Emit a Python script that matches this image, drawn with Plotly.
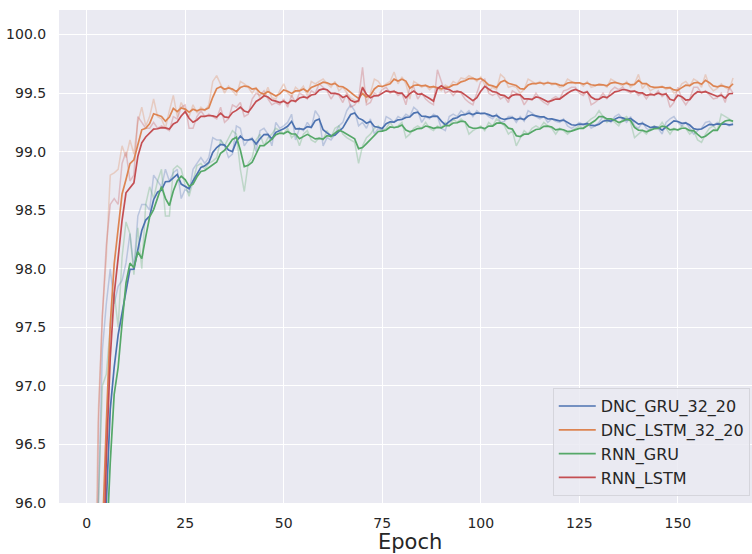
import numpy as np
import plotly.graph_objects as go

# Validation accuracy (%) per epoch for each model
epochs = list(range(1, 165))

dnc_gru_32_20 = [
    90.0, 93.5, 96.0, 97.3, 97.7, 98.0, 97.7, 97.85, 97.9, 98.05,
    98.3, 98.0, 98.45, 98.55, 98.55, 98.5, 98.8, 98.75, 98.7, 98.85,
    98.75, 98.82, 98.85, 98.6, 98.68, 98.65, 98.85, 98.9, 98.95, 98.9,
    98.95, 99.12, 99.1, 99.1, 99.05, 98.95, 98.98, 99.22, 99.2, 99.05,
    99.1, 99.12, 99.0, 99.18, 99.2, 99.15, 99.05, 99.25, 99.2, 99.22,
    99.25, 99.32, 99.1, 99.2, 99.18, 99.25, 99.2, 99.35, 99.3, 99.05,
    99.12, 99.1, 99.15, 99.22, 99.25, 99.35, 99.4, 99.35, 99.22, 99.25,
    99.2, 99.28, 99.15, 99.2, 99.18, 99.3, 99.28, 99.25, 99.3, 99.28,
    99.32, 99.3, 99.38, 99.35, 99.25, 99.3, 99.28, 99.32, 99.3, 99.2,
    99.18, 99.3, 99.32, 99.3, 99.35, 99.32, 99.35, 99.3, 99.35, 99.32,
    99.33, 99.3, 99.28, 99.32, 99.25, 99.26, 99.3, 99.3, 99.25, 99.3,
    99.26, 99.35, 99.33, 99.3, 99.28, 99.3, 99.25, 99.28, 99.26, 99.25,
    99.28, 99.22, 99.2, 99.22, 99.25, 99.23, 99.25, 99.2, 99.22, 99.25,
    99.3, 99.28, 99.25, 99.3, 99.32, 99.28, 99.25, 99.3, 99.22, 99.2,
    99.25, 99.2, 99.18, 99.22, 99.2, 99.15, 99.25, 99.28, 99.3, 99.25,
    99.22, 99.25, 99.2, 99.15, 99.18, 99.2, 99.25, 99.26, 99.22, 99.25,
    99.23, 99.24, 99.22, 99.24,
]

dnc_lstm_32_20 = [
    91.5, 95.0, 96.8, 97.6, 98.1, 98.8, 98.82, 98.85, 99.05, 98.95,
    99.1, 98.98, 99.25, 99.38, 99.22, 99.3, 99.45, 99.3, 99.28, 99.2,
    99.35, 99.48, 99.3, 99.42, 99.35, 99.3, 99.4, 99.33, 99.38, 99.35,
    99.4, 99.6, 99.65, 99.58, 99.5, 99.56, 99.52, 99.48, 99.6, 99.58,
    99.55, 99.5, 99.55, 99.45, 99.47, 99.55, 99.46, 99.45, 99.52, 99.58,
    99.5, 99.47, 99.55, 99.52, 99.56, 99.48, 99.6, 99.58, 99.6, 99.62,
    99.58, 99.55, 99.6, 99.52, 99.55, 99.5, 99.46, 99.44, 99.42, 99.56,
    99.42, 99.5, 99.62, 99.6, 99.55, 99.58, 99.6, 99.68, 99.58, 99.64,
    99.58, 99.45, 99.6, 99.58, 99.55, 99.57, 99.53, 99.56, 99.54, 99.52,
    99.57, 99.55, 99.6, 99.58, 99.63, 99.62, 99.65, 99.63, 99.6, 99.64,
    99.57, 99.52, 99.55, 99.53, 99.66, 99.63, 99.55, 99.56, 99.55, 99.5,
    99.53, 99.62, 99.6, 99.58, 99.6, 99.57, 99.6, 99.57, 99.58, 99.55,
    99.56, 99.62, 99.6, 99.58, 99.59, 99.56, 99.6, 99.55, 99.56, 99.58,
    99.57, 99.55, 99.62, 99.6, 99.58, 99.56, 99.6, 99.55, 99.58, 99.66,
    99.54, 99.58, 99.52, 99.54, 99.55, 99.56, 99.53, 99.55, 99.5, 99.52,
    99.58, 99.6, 99.56, 99.62, 99.6, 99.55, 99.66, 99.56, 99.52, 99.54,
    99.58, 99.55, 99.53, 99.63,
]

rnn_gru = [
    89.5, 93.0, 96.0, 97.0, 97.1, 97.5, 97.8, 97.5, 98.1, 98.4,
    98.3, 97.95, 98.35, 98.0, 98.55, 98.7, 98.6, 98.75, 98.85, 98.45,
    98.45, 98.85, 98.88, 98.85, 98.72, 98.62, 98.75, 98.88, 98.9, 98.85,
    98.9, 98.92, 98.95, 99.1, 99.05, 99.12, 99.18, 99.15, 98.85, 98.66,
    98.9, 98.95, 99.1, 99.15, 99.05, 99.12, 99.15, 99.2, 99.18, 99.15,
    99.2, 99.12, 99.15, 99.05, 99.15, 99.18, 99.1, 99.08, 99.12, 99.1,
    99.18, 99.12, 99.2, 99.22, 99.15, 99.12, 99.1, 99.08, 98.9, 99.05,
    99.12, 99.15, 99.2, 99.22, 99.18, 99.2, 99.25, 99.2, 99.22, 99.25,
    99.12, 99.15, 99.2, 99.22, 99.2, 99.25, 99.2, 99.18, 99.22, 99.2,
    99.25, 99.22, 99.28, 99.25, 99.28, 99.25, 99.15, 99.18, 99.2, 99.22,
    99.18, 99.25, 99.22, 99.28, 99.25, 99.22, 99.15, 99.18, 99.05, 99.12,
    99.18, 99.15, 99.2, 99.22, 99.2, 99.25, 99.22, 99.2, 99.15, 99.2,
    99.18, 99.15, 99.18, 99.2, 99.22, 99.2, 99.25, 99.28, 99.3, 99.35,
    99.3, 99.25, 99.28, 99.25, 99.22, 99.28, 99.3, 99.25, 99.12, 99.15,
    99.18, 99.15, 99.2, 99.22, 99.2, 99.25, 99.2, 99.15, 99.2, 99.18,
    99.22, 99.2, 99.15, 99.18, 99.1, 99.08, 99.15, 99.2, 99.22, 99.18,
    99.32, 99.3, 99.28, 99.25,
]

rnn_lstm = [
    90.0, 93.5, 96.68, 97.6, 98.2, 98.55, 98.6, 98.55, 98.9, 99.0,
    98.75, 98.8, 99.3, 99.25, 99.2, 99.2, 99.25, 99.2, 99.22, 99.2,
    99.18, 99.3, 99.28, 99.38, 99.4, 99.2, 99.2, 99.3, 99.35, 99.3,
    99.32, 99.3, 99.28, 99.38, 99.25, 99.28, 99.4, 99.38, 99.42, 99.3,
    99.32, 99.45, 99.5, 99.48, 99.52, 99.45, 99.4, 99.42, 99.4, 99.45,
    99.38, 99.48, 99.42, 99.5, 99.48, 99.45, 99.52, 99.5, 99.58, 99.55,
    99.52, 99.45, 99.5, 99.48, 99.42, 99.5, 99.38, 99.4, 99.45, 99.72,
    99.4, 99.42, 99.5, 99.48, 99.53, 99.55, 99.5, 99.52, 99.48, 99.5,
    99.4, 99.55, 99.55, 99.45, 99.5, 99.45, 99.42, 99.4, 99.7, 99.6,
    99.5, 99.52, 99.48, 99.52, 99.5, 99.45, 99.42, 99.4, 99.5, 99.6,
    99.62, 99.5, 99.48, 99.5, 99.45, 99.47, 99.42, 99.52, 99.5, 99.48,
    99.4, 99.45, 99.44, 99.5, 99.45, 99.42, 99.4, 99.45, 99.47, 99.45,
    99.52, 99.53, 99.55, 99.55, 99.5, 99.48, 99.52, 99.4, 99.42, 99.45,
    99.5, 99.45, 99.52, 99.55, 99.53, 99.55, 99.52, 99.5, 99.52, 99.48,
    99.5, 99.45, 99.5, 99.48, 99.52, 99.47, 99.5, 99.38, 99.42, 99.55,
    99.45, 99.4, 99.45, 99.55, 99.55, 99.5, 99.52, 99.48, 99.45, 99.46,
    99.5, 99.42, 99.55, 99.5,
]

series_names = ["DNC_GRU_32_20", "DNC_LSTM_32_20", "RNN_GRU", "RNN_LSTM"]
series_values = [dnc_gru_32_20, dnc_lstm_32_20, rnn_gru, rnn_lstm]
series_colors = ["#4C72B0", "#DD8452", "#55A868", "#C44E52"]
x_ticks = [0, 25, 50, 75, 100, 125, 150]
y_ticks = [96.0, 96.5, 97.0, 97.5, 98.0, 98.5, 99.0, 99.5, 100.0]

SMOOTH_WEIGHT = 0.6


def ema(values, weight):
    """Exponential moving average, as used for smoothing training curves."""
    out = []
    last = values[0]
    for v in values:
        last = last * weight + (1 - weight) * v
        out.append(last)
    return out


def rgba(hex_color, alpha):
    h = hex_color.lstrip("#")
    r, g, b = int(h[0:2], 16), int(h[2:4], 16), int(h[4:6], 16)
    return f"rgba({r},{g},{b},{alpha})"


for vals in series_values:
    assert len(vals) == len(epochs)

fig = go.Figure()

# raw curves, faint
for name, vals, color in zip(series_names, series_values, series_colors):
    fig.add_trace(go.Scatter(
        x=epochs, y=vals, mode="lines",
        line=dict(color=rgba(color, 0.3), width=1.5),
        showlegend=False, hoverinfo="skip",
    ))

# smoothed curves
for name, vals, color in zip(series_names, series_values, series_colors):
    fig.add_trace(go.Scatter(
        x=epochs, y=ema(vals, SMOOTH_WEIGHT), mode="lines", name=name,
        line=dict(color=color, width=1.7),
    ))

font_family = "DejaVu Sans"
fig.update_layout(
    width=752, height=554,
    margin=dict(l=59, r=0, t=10, b=51),
    paper_bgcolor="white",
    plot_bgcolor="#EAEAF2",
    font=dict(family=font_family, color="#262626"),
    showlegend=True,
    legend=dict(
        x=0.7125, y=0.014, xanchor="left", yanchor="bottom",
        bgcolor="rgba(234,234,242,0.85)", bordercolor="#D5D5DC", borderwidth=1,
        font=dict(size=16, color="#262626", family=font_family),
        itemwidth=37, tracegroupgap=0,
    ),
    xaxis=dict(
        range=[-7.0, 168.8], tickvals=x_ticks,
        showgrid=True, gridcolor="white", gridwidth=1.4, zeroline=False,
        showline=False, ticks="outside", ticklen=7, tickcolor="rgba(0,0,0,0)",
        tickfont=dict(size=14, color="#262626", family=font_family),
    ),
    yaxis=dict(
        range=[96.0, 100.21], tickvals=y_ticks, tickformat=".1f",
        showgrid=True, gridcolor="white", gridwidth=1.4, zeroline=False,
        showline=False, ticks="outside", ticklen=9, tickcolor="rgba(0,0,0,0)",
        tickfont=dict(size=14, color="#262626", family=font_family),
    ),
    annotations=[dict(
        text="Epoch", xref="paper", yref="paper",
        x=(410 - 59) / 693, y=-(541.5 - 503) / 493,
        xanchor="center", yanchor="middle", showarrow=False,
        font=dict(size=21, color="#262626", family=font_family),
    )],
)

fig.write_html("out.html")
